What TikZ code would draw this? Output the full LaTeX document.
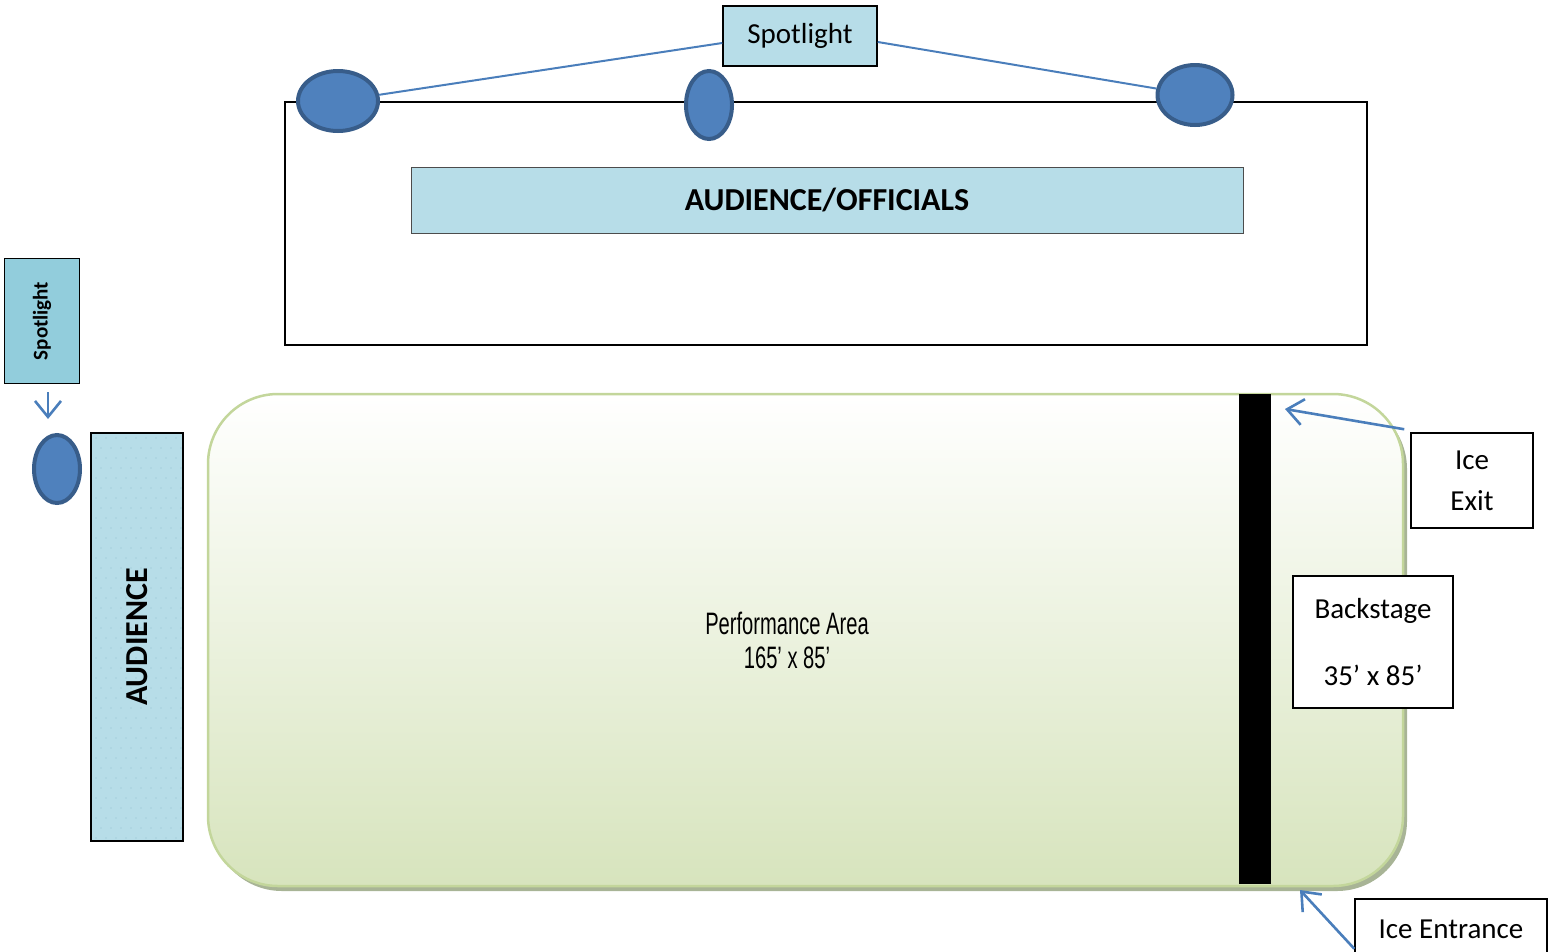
\documentclass[tikz,border=0pt]{standalone}
\usepackage{fontspec}
\setmainfont{Carlito}
\newfontfamily\agency[FakeStretch=0.65]{Liberation Sans}
\usetikzlibrary{shapes.geometric,arrows.meta,calc}
\definecolor{lb}{HTML}{B7DDE8}
\definecolor{mb}{HTML}{92CDDC}
\definecolor{lampfill}{HTML}{4F81BD}
\definecolor{lampedge}{HTML}{385D8A}
\definecolor{linkblue}{HTML}{4A7EBB}
\definecolor{grb}{HTML}{C3D69B}
\definecolor{grf}{HTML}{D7E4BD}
\definecolor{shadowc}{HTML}{A8B496}
\definecolor{dotc}{HTML}{A6CFDC}
\begin{document}
\begin{tikzpicture}[x=1pt,y=-1pt,
  txt/.style={font=\fontsize{29}{35}\selectfont},
  box/.style={draw=black, line width=1.5pt, inner sep=0pt},
  lamp/.style={ellipse, draw=lampedge, fill=lampfill, line width=4pt, inner sep=0pt},
  link/.style={draw=linkblue, line width=2pt},
  arr/.style={draw=linkblue, line width=2.6pt, -{Straight Barb[length=16pt,width=26pt]}},
  plain/.style={inner sep=0pt, outer sep=0pt}
]
\useasboundingbox (0,0) rectangle (1557,951);
% top stand
\node[draw=black, line width=1.5pt, plain, minimum width=1082, minimum height=243] (stand) at (826,223.5) {};
\node[draw=black!70, line width=1pt, fill=lb, plain, minimum width=832, minimum height=66,
      font=\fontsize{32}{38}\selectfont\bfseries] (officials) at (827,200) {AUDIENCE/OFFICIALS};
% spotlight top
\node[box, fill=lb, minimum width=154, minimum height=60, txt] (spot) at (800,36) {Spotlight};
\node[lamp, minimum width=80, minimum height=60] (e1) at (338,101) {};
\node[lamp, minimum width=46, minimum height=68] (e2) at (709,105) {};
\node[lamp, minimum width=75, minimum height=60] (e3) at (1195,95) {};
\draw[link] ($(spot.west)+(0,7)$) -- (e1);
\draw[link] ($(spot.east)+(0,6)$) -- (e3);
% left spotlight
\node[box, fill=mb, minimum width=75, minimum height=125,
      font=\fontsize{21}{25}\selectfont\bfseries] (lspot) at (42,321) {\rotatebox{90}{Spotlight}};
\node[lamp, minimum width=46, minimum height=68] (e4) at (57,469) {};
\coordinate (lamptop) at (48,419);
\draw[arr] ($(lspot.south)+(6,8)$) -- (lamptop);
% audience
\fill[lb] (91,433) rectangle (183,841);
\foreach \i in {0,...,8} {
  \foreach \j in {0,...,40} {
    \pgfmathsetmacro{\dx}{96+10*\i+5*mod(\j,2)}
    \pgfmathsetmacro{\dy}{438+10*\j}
    \fill[dotc] (\dx,\dy) circle (0.9);
  }
}
\node[box, minimum width=92, minimum height=408,
      font=\fontsize{32}{38}\selectfont\bfseries] (aud) at (137,637) {\rotatebox{90}{AUDIENCE}};
% performance area
\node[plain, rounded corners=70, fill=shadowc, minimum width=1195, minimum height=492] (pashadow) at (809.5,645) {};
\node[plain, rounded corners=70, draw=grb, line width=2.5pt, top color=white, bottom color=grf,
      minimum width=1195, minimum height=492] (pa) at (805.5,640) {};
\node[font=\agency\fontsize{31}{34}\selectfont, align=center] (patext) at (787,640) {Performance Area\\165\textquoteright\ x 85\textquoteright};
\node[fill=black, plain, minimum width=32, minimum height=490] (bar) at (1255,639) {};
% labels right
\node[box, fill=white, minimum width=122, minimum height=95, txt, align=center] (exit) at (1472,480.5) {Ice\\[6pt]Exit};
\node[box, fill=white, minimum width=160, minimum height=132, txt, align=center] (back) at (1373,642) {Backstage\\[32pt]35\textquoteright\ x 85\textquoteright};
\node[box, fill=white, minimum width=192, minimum height=60, txt] (entr) at (1451,929) {Ice Entrance};
\coordinate (exitpt) at (1285,409);
\coordinate (entpt) at (1300,890);
\draw[arr] ($(exit.north west)+(-6,-3)$) -- (exitpt);
\draw[arr] ($(entr.south west)+(0,-11)$) -- (entpt);
\end{tikzpicture}
\end{document}
